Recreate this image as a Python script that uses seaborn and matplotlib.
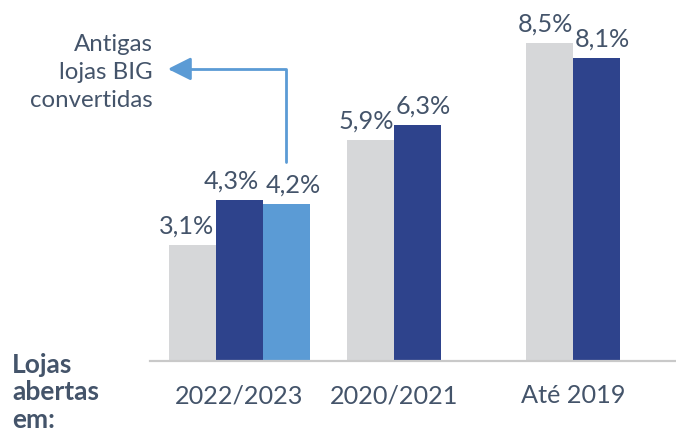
import matplotlib
matplotlib.use("Agg")
import matplotlib.pyplot as plt
import seaborn as sns
import numpy as np
import pandas as pd

periodos = ["2022/2023", "2020/2021", "Até 2019"]
valores_cinza = [3.1, 5.9, 8.5]
valores_azul = [4.3, 6.3, 8.1]
valores_big = [4.2, None, None]
series = ["cinza", "azul", "big"]
cores = {"cinza": "#d6d7d9", "azul": "#2e438c", "big": "#5b9bd5"}
texto_cor = "#44546a"

sns.set_theme(style="white")
plt.rcParams["font.family"] = ["Lato", "DejaVu Sans"]

# posicoes: cada barra ocupa 1 unidade, grupos espacados de 3.8
espaco_grupo = 3.8
linhas = []
centros = []
for g, periodo in enumerate(periodos):
    inicio = g * espaco_grupo
    vals = [valores_cinza[g], valores_azul[g], valores_big[g]]
    n_barras = sum(v is not None for v in vals)
    # rotulos afastados um pouco para nao se sobreporem
    desloc = [-4, -6, 5] if n_barras == 3 else [-3, 4]
    k = 0
    for i, (s, v) in enumerate(zip(series, vals)):
        if v is None:
            continue
        linhas.append({"pos": inicio + i + 0.5, "valor": v, "serie": s,
                       "dx": desloc[k]})
        k += 1
    centros.append(inicio + n_barras / 2)
df = pd.DataFrame(linhas)

fig = plt.figure(figsize=(6.76, 4.35), dpi=100)
ax = fig.add_axes([150 / 676, 73 / 435, 526 / 676, 362 / 435])

sns.barplot(data=df, x="pos", y="valor", hue="serie", hue_order=series,
            palette=cores, native_scale=True, dodge=False, width=1.0,
            orient="x", saturation=1, legend=False, linewidth=0, ax=ax)

ax.set_xlim(-0.4, 10.79)
ax.set_ylim(0, 9.68)
ax.set_xticks(centros)
ax.set_xticklabels(periodos, fontsize=18.2, color=texto_cor)
ax.tick_params(axis="x", length=0, pad=16)
ax.set_yticks([])
ax.set_xlabel("")
ax.set_ylabel("")
for lado in ["left", "right", "top"]:
    ax.spines[lado].set_visible(False)
ax.spines["bottom"].set_color("#c9c9c9")
ax.spines["bottom"].set_linewidth(1.6)

for _, r in df.iterrows():
    rotulo = f"{r['valor']:.1f}%".replace(".", ",")
    ax.annotate(rotulo, (r["pos"], r["valor"]), xytext=(r["dx"], 9),
                textcoords="offset points", ha="center", va="baseline",
                fontsize=18.2, color=texto_cor, annotation_clip=False)

# seta das lojas BIG convertidas
big = df[df["serie"] == "big"].iloc[0]
ax.annotate("", xy=(-0.02, 7.81), xytext=(big["pos"], big["valor"] + 1.12),
            arrowprops=dict(arrowstyle="-|>,head_length=0.7,head_width=0.35",
                            connectionstyle="angle,angleA=90,angleB=0,rad=0",
                            color="#5b9bd5", lw=2, shrinkA=0, shrinkB=0,
                            mutation_scale=20),
            annotation_clip=False)

fig.text(153 / 676, 1 - 34 / 435, "Antigas\nlojas BIG\nconvertidas",
         ha="right", va="top", fontsize=17.3, color=texto_cor, linespacing=1.4)
fig.text(12 / 676, 1 - 353 / 435, "Lojas\nabertas\nem:", ha="left", va="top",
         fontsize=19, fontweight="bold", color=texto_cor, linespacing=1.17)

fig.savefig("out.png", dpi=100)
